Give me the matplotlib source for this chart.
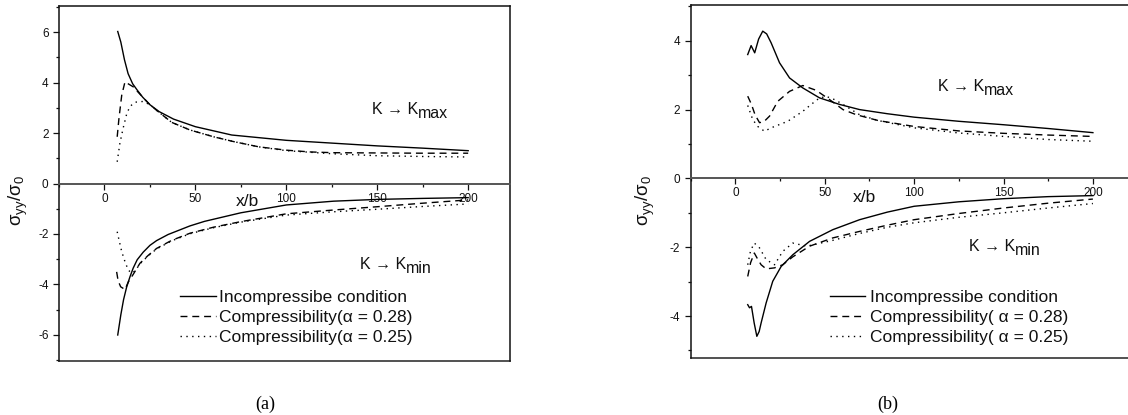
import matplotlib
matplotlib.use("Agg")
import matplotlib.pyplot as plt
from matplotlib.ticker import MultipleLocator

plt.rcParams['font.family'] = ['Liberation Sans', 'DejaVu Sans']
plt.rcParams['axes.unicode_minus'] = False
plt.rcParams['mathtext.fontset'] = 'custom'
plt.rcParams['mathtext.rm'] = 'Liberation Sans'

# ---------------- data: panel (a) ----------------
a_sol_up_x = [7.3, 9, 11, 13, 15.5, 18, 21, 25, 30, 38, 50, 70, 100, 125, 150, 175, 200]
a_sol_up_y = [6.02, 5.6, 4.9, 4.35, 3.95, 3.7, 3.42, 3.12, 2.85, 2.55, 2.25, 1.92, 1.71, 1.60, 1.49, 1.40, 1.30]
a_d28_up_x = [7.0, 8, 9.5, 11.3, 13, 15.8, 20, 25, 30, 37, 47, 60, 71, 85, 100, 113, 126, 150, 175, 200]
a_d28_up_y = [1.85, 2.6, 3.5, 4.03, 3.95, 3.83, 3.5, 3.12, 2.82, 2.42, 2.12, 1.85, 1.66, 1.45, 1.32, 1.25, 1.22, 1.21, 1.20, 1.20]
a_d25_up_x = [7.0, 8.5, 10.3, 12.2, 14, 16.8, 21.3, 25, 30, 37, 47, 60, 71, 85, 100, 125, 150, 175, 200]
a_d25_up_y = [0.86, 1.6, 2.2, 2.75, 3.05, 3.22, 3.25, 3.12, 2.82, 2.42, 2.12, 1.85, 1.66, 1.45, 1.30, 1.18, 1.10, 1.07, 1.05]

a_sol_lo_x = [7.3, 9, 10.5, 12.2, 14, 15.8, 18, 21.3, 25, 28.7, 35, 47, 55, 75, 100, 126, 150, 175, 200]
a_sol_lo_y = [-6.0, -5.2, -4.6, -4.1, -3.7, -3.35, -3.02, -2.72, -2.45, -2.26, -2.02, -1.68, -1.50, -1.16, -0.85, -0.70, -0.63, -0.59, -0.56]
a_d28_lo_x = [6.7, 7.5, 8.9, 11.3, 13.1, 15.8, 19.5, 24, 28.7, 37, 47, 60, 75, 100, 126, 150, 175, 200]
a_d28_lo_y = [-3.5, -3.85, -4.09, -4.2, -3.9, -3.6, -3.16, -2.85, -2.57, -2.25, -1.97, -1.73, -1.51, -1.20, -1.05, -0.92, -0.78, -0.65]
a_d25_lo_x = [7.0, 8.2, 9.5, 11.3, 13.1, 15, 17, 19.5, 24, 28.7, 37, 47, 60, 75, 100, 126, 150, 175, 200]
a_d25_lo_y = [-1.91, -2.3, -2.70, -3.10, -3.43, -3.55, -3.45, -3.18, -2.87, -2.59, -2.27, -1.99, -1.75, -1.53, -1.25, -1.12, -1.02, -0.91, -0.81]

# ---------------- data: panel (b) ----------------
b_sol_up_x = [6.9, 8.8, 10.8, 13, 15.3, 17.5, 20, 24.7, 30.3, 37.7, 47.1, 58.3, 69.5, 85, 100, 125, 150, 175, 200]
b_sol_up_y = [3.60, 3.86, 3.65, 4.05, 4.28, 4.2, 3.94, 3.36, 2.92, 2.63, 2.34, 2.15, 2.00, 1.88, 1.78, 1.66, 1.56, 1.45, 1.33]
b_d28_up_x = [6.9, 9, 11, 13.5, 16, 19.1, 23.7, 30.3, 37.7, 45.2, 52.7, 60.2, 67.7, 80, 100, 125, 150, 175, 200]
b_d28_up_y = [2.39, 2.15, 1.85, 1.62, 1.65, 1.81, 2.24, 2.53, 2.70, 2.56, 2.29, 2.0, 1.85, 1.68, 1.51, 1.38, 1.31, 1.26, 1.22]
b_d25_up_x = [6.9, 9.7, 12.5, 16.3, 20, 29.3, 37.7, 42.4, 47.1, 51, 55.5, 60.2, 69.5, 80, 100, 125, 150, 175, 200]
b_d25_up_y = [2.12, 1.71, 1.51, 1.37, 1.47, 1.66, 1.95, 2.15, 2.34, 2.38, 2.29, 2.15, 1.85, 1.68, 1.47, 1.32, 1.22, 1.13, 1.08]

b_sol_lo_x = [6.9, 7.9, 9, 10.5, 12, 13.3, 14.4, 17.2, 20.9, 25.6, 32.1, 41.5, 54.5, 69.5, 85, 100, 125, 150, 175, 200]
b_sol_lo_y = [-3.67, -3.76, -3.72, -4.2, -4.59, -4.45, -4.20, -3.62, -2.99, -2.56, -2.22, -1.83, -1.49, -1.20, -0.98, -0.81, -0.68, -0.59, -0.53, -0.50]
b_d28_lo_x = [6.9, 8.5, 10.6, 12.5, 14.4, 17.2, 21.9, 26.5, 32.1, 41.5, 54.5, 69.5, 85, 100, 125, 150, 175, 200]
b_d28_lo_y = [-2.85, -2.45, -2.17, -2.35, -2.51, -2.63, -2.60, -2.51, -2.28, -1.97, -1.73, -1.54, -1.36, -1.20, -1.02, -0.86, -0.72, -0.60]
b_d25_lo_x = [6.9, 8.5, 10.6, 13.5, 17.2, 21.9, 26.5, 32.1, 40, 54.5, 69.5, 85, 100, 125, 150, 175, 200]
b_d25_lo_y = [-2.51, -2.1, -1.88, -2.02, -2.36, -2.51, -2.12, -1.88, -1.97, -1.80, -1.60, -1.42, -1.29, -1.13, -1.00, -0.86, -0.73]

a_labels = ["Incompressibe condition", "Compressibility(\u03b1 = 0.28)", "Compressibility(\u03b1 = 0.25)"]
b_labels = ["Incompressibe condition", "Compressibility( \u03b1 = 0.28)", "Compressibility( \u03b1 = 0.25)"]
x_ticks = [0, 50, 100, 150, 200]

W, H = 1128, 415
fig = plt.figure(figsize=(W / 100, H / 100), dpi=100)


def fx(px):
    return px / W


def fy(py):
    return 1 - py / H


ax_a = fig.add_axes([fx(59), fy(361), (510 - 59) / W, (361 - 6) / H])
ax_b = fig.add_axes([fx(690.7), fy(358), (1134 - 690.7) / W, (358 - 5) / H])

LW = 1.0
DASH = (0, (5, 3.5))
DOT = (0, (1, 3.2))


def style(ax, ylim, yt):
    ax.set_xlim(-25, 223)
    ax.set_ylim(*ylim)
    for s in ['left', 'top', 'right']:
        ax.spines[s].set_linewidth(1.1)
        ax.spines[s].set_color('#111111')
    ax.spines['bottom'].set_position(('data', 0))
    ax.spines['bottom'].set_color('#555555')
    ax.spines['bottom'].set_linewidth(1.4)
    ax.plot([0, 1], [0, 0], transform=ax.transAxes, color='#333333', lw=1.2, clip_on=False)
    ax.set_xticks(x_ticks)
    ax.xaxis.set_minor_locator(MultipleLocator(25))
    ax.set_yticks(yt)
    ax.yaxis.set_minor_locator(MultipleLocator(1))
    ax.tick_params(axis='both', which='major', direction='out', length=4, width=0.9,
                   labelsize=8.5, colors='#111111')
    ax.tick_params(axis='both', which='minor', direction='out', length=2, width=0.9, colors='#111111')
    ax.tick_params(axis='y', which='major', pad=3.5)
    ax.tick_params(axis='x', which='major', pad=2.5)


style(ax_a, (-7.03, 7.03), [-6, -4, -2, 0, 2, 4, 6])
style(ax_b, (-5.22, 5.04), [-4, -2, 0, 2, 4])
ax_b.spines['right'].set_visible(False)

for ax, data, labels in [
    (ax_a, [(a_sol_up_x, a_sol_up_y, a_sol_lo_x, a_sol_lo_y, '-'),
            (a_d28_up_x, a_d28_up_y, a_d28_lo_x, a_d28_lo_y, DASH),
            (a_d25_up_x, a_d25_up_y, a_d25_lo_x, a_d25_lo_y, DOT)], a_labels),
    (ax_b, [(b_sol_up_x, b_sol_up_y, b_sol_lo_x, b_sol_lo_y, '-'),
            (b_d28_up_x, b_d28_up_y, b_d28_lo_x, b_d28_lo_y, DASH),
            (b_d25_up_x, b_d25_up_y, b_d25_lo_x, b_d25_lo_y, DOT)], b_labels)]:
    for (ux, uy, lx, ly, ls), lab in zip(data, labels):
        ax.plot(ux, uy, color='black', lw=LW, linestyle=ls, label=lab)
        ax.plot(lx, ly, color='black', lw=LW, linestyle=ls)

LEG_FS = 12.5
leg_a = ax_a.legend(loc='center left', bbox_to_anchor=(fx(180), fy(317.5)), bbox_transform=fig.transFigure,
                    frameon=False, fontsize=LEG_FS, handlelength=2.1, handletextpad=0.15,
                    labelspacing=0.3, borderpad=0, borderaxespad=0)
leg_b = ax_b.legend(loc='center left', bbox_to_anchor=(fx(830), fy(317.5)), bbox_transform=fig.transFigure,
                    frameon=False, fontsize=LEG_FS, handlelength=2.0, handletextpad=0.28,
                    labelspacing=0.3, borderpad=0, borderaxespad=0)
for leg in (leg_a, leg_b):
    for t in leg.get_texts():
        t.set_color('#111111')

# axis labels
fig.text(fx(247), fy(202), "x/b", ha='center', va='center', fontsize=12.5, color='#111111')
fig.text(fx(864), fy(197), "x/b", ha='center', va='center', fontsize=12.5, color='#111111')
ylab = "\u03c3$_\\mathregular{yy}$/\u03c3$_\\mathregular{0}$"
fig.text(fx(18), fy(200), ylab, rotation=90, ha='center', va='center', fontsize=13.5, color='#111111')
fig.text(fx(645), fy(200), ylab, rotation=90, ha='center', va='center', fontsize=13.5, color='#111111')

# K -> K annotations
renderer = fig.canvas.get_renderer()


def kt(px, py, sub):
    t = fig.text(fx(px), fy(py), "K \u2192 K", ha='left', va='baseline', fontsize=11.5, color='#111111')
    bb = t.get_window_extent(renderer=renderer)
    fig.text(bb.x1 / W, fy(py + 4), sub, ha='left', va='baseline', fontsize=11.5, color='#111111')


kt(372, 114, "max")
kt(360, 269, "min")
kt(938, 91, "max")
kt(969, 251, "min")

# captions
fig.text(fx(265), fy(404), "(a)", ha='center', va='center', fontsize=13, family='Liberation Serif')
fig.text(fx(888), fy(404), "(b)", ha='center', va='center', fontsize=13, family='Liberation Serif')

fig.savefig("out.png", dpi=100)
